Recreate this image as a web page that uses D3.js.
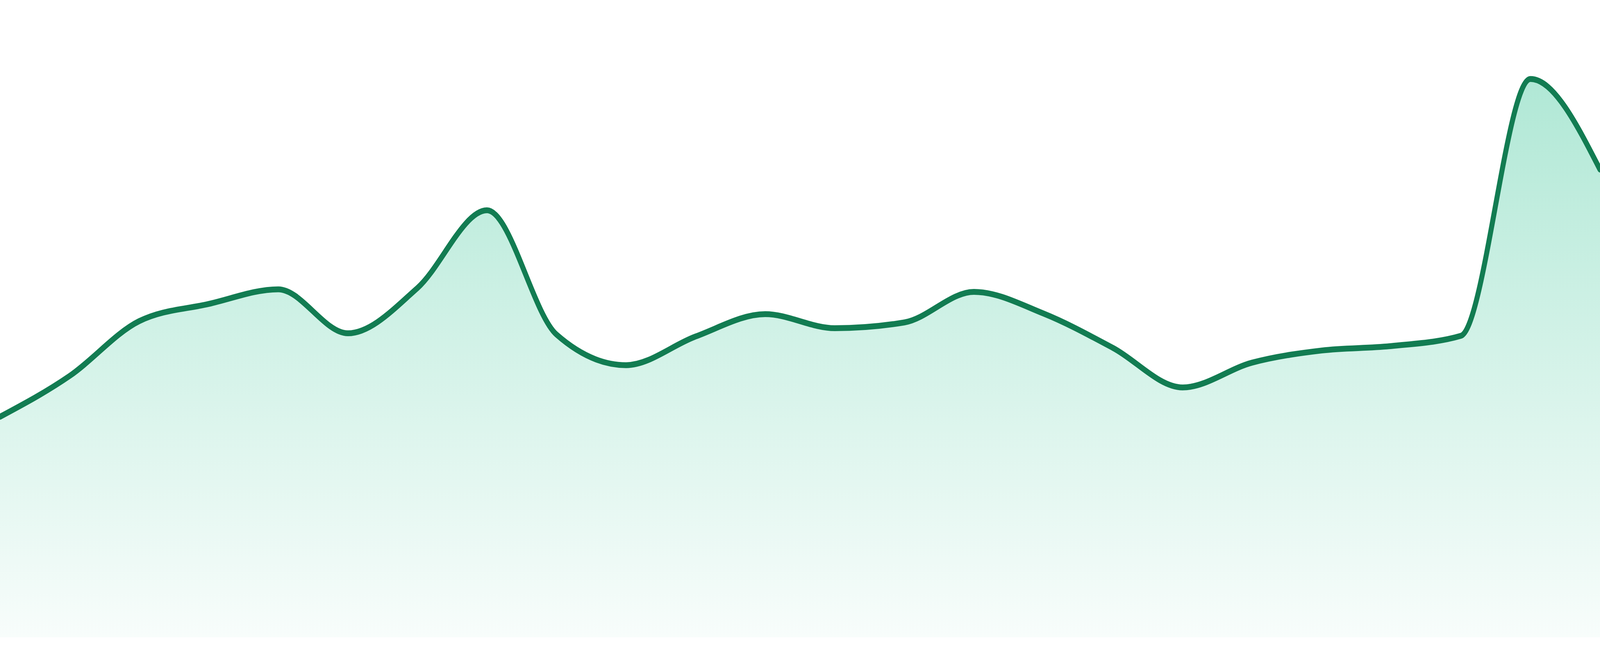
<!DOCTYPE html>
<html>
<head>
<meta charset="utf-8">
<script src="https://cdn.jsdelivr.net/npm/d3@7"></script>
<style>
    html, body { margin: 0; padding: 0; background: #ffffff; overflow: hidden; }
    svg { display: block; width: 100vw; height: 100vh; }
</style>
</head>
<body>
<div id="area-chart"></div>
<script>
// one value per period, left to right
var periods = d3.range(24);
var values = [34.6, 41.0, 49.6, 52.3, 54.6, 47.7, 54.8, 67.0,
              47.5, 42.7, 47.2, 50.7, 48.5, 49.4, 54.2, 50.8,
              45.4, 39.2, 43.1, 45.0, 45.7, 47.3, 87.6, 73.4];
var y_domain = [0, 100];

// drawing units; the svg viewBox stretches them over the window
const width = 4800;
const height = 1680;
const plot_bottom = 1632;

var data = periods.map(function (p, i) {
    return { period: p, value: values[i] };
});

var svg = d3.select("#area-chart")
    .append("svg")
    .attr("viewBox", "0 0 " + width + " " + height)
    .attr("preserveAspectRatio", "none");

var xScale = d3.scaleLinear()
    .domain(d3.extent(periods))
    .range([0, width]);

var yScale = d3.scaleLinear()
    .domain(y_domain)
    .range([plot_bottom, 0]);

var grad = svg.append("defs")
    .append("linearGradient")
    .attr("id", "fill-grad")
    .attr("x1", 0).attr("y1", 0)
    .attr("x2", 0).attr("y2", 1);

grad.append("stop")
    .attr("offset", "0%")
    .attr("stop-color", "#10b981")
    .attr("stop-opacity", 0.33);

grad.append("stop")
    .attr("offset", "100%")
    .attr("stop-color", "#10b981")
    .attr("stop-opacity", 0.03);

var area = d3.area()
    .x(function (d) { return xScale(d.period); })
    .y0(yScale(0))
    .y1(function (d) { return yScale(d.value); })
    .curve(d3.curveMonotoneX);

var line = d3.line()
    .x(function (d) { return xScale(d.period); })
    .y(function (d) { return yScale(d.value); })
    .curve(d3.curveMonotoneX);

svg.append("path")
    .datum(data)
    .attr("fill", "url(#fill-grad)")
    .attr("d", area);

svg.append("path")
    .datum(data)
    .attr("fill", "none")
    .attr("stroke", "#127c52")
    .attr("stroke-width", 15)
    .attr("stroke-linejoin", "round")
    .attr("stroke-linecap", "round")
    .attr("d", line);
</script>
</body>
</html>
